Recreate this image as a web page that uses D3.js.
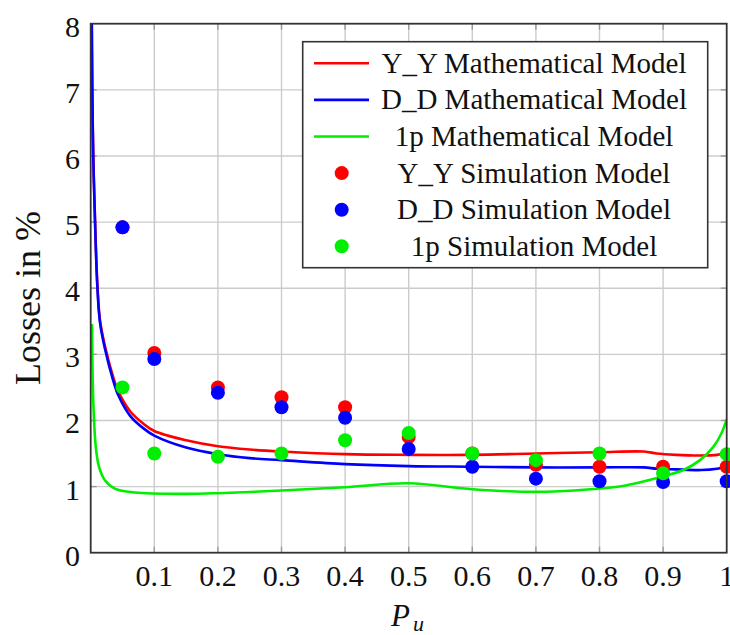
<!DOCTYPE html>
<html>
<head>
<meta charset="utf-8">
<script src="https://cdn.jsdelivr.net/npm/d3@7"></script>
<style>
  html, body { margin: 0; padding: 0; background: #fff; }
  svg { display: block; }
  text { font-family: "Liberation Serif", "Times New Roman", serif; fill: #111; }
</style>
</head>
<body>
<svg id="chart" width="730" height="635"></svg>
<script>
// ---------------- data ----------------
const xTicks = [0.1, 0.2, 0.3, 0.4, 0.5, 0.6, 0.7, 0.8, 0.9, 1];
const xTickLabels = ["0.1", "0.2", "0.3", "0.4", "0.5", "0.6", "0.7", "0.8", "0.9", "1"];
const yTicks = [0, 1, 2, 3, 4, 5, 6, 7, 8];

// Mathematical models (Y_Y and D_D share x positions)
const xMath = [0.0015, 0.0025, 0.004, 0.0068, 0.0104, 0.0146, 0.0225, 0.0346, 0.0434, 0.062, 0.083, 0.1, 0.15, 0.2, 0.25, 0.3, 0.4, 0.5, 0.6, 0.7, 0.8, 0.87, 0.89, 0.92, 0.96, 0.985, 1.0];
const yyMath = [8.3, 7.05, 6.05, 5.05, 4.08, 3.52, 3.12, 2.68, 2.44, 2.14, 1.95, 1.84, 1.70, 1.61, 1.56, 1.53, 1.49, 1.48, 1.48, 1.50, 1.52, 1.53, 1.50, 1.48, 1.47, 1.48, 1.51];
const ddMath = [8.3, 7.0, 6.0, 5.0, 4.03, 3.48, 3.08, 2.63, 2.38, 2.07, 1.88, 1.77, 1.59, 1.49, 1.43, 1.40, 1.34, 1.31, 1.30, 1.29, 1.29, 1.29, 1.27, 1.26, 1.25, 1.27, 1.30];

const x1pMath = [0.002, 0.004, 0.008, 0.013, 0.022, 0.038, 0.07, 0.148, 0.2, 0.3, 0.4, 0.5, 0.6, 0.7, 0.786, 0.837, 0.89, 0.932, 0.958, 0.979, 0.992, 1.0];
const p1Math = [3.46, 2.31, 1.6, 1.3, 1.1, 0.97, 0.91, 0.89, 0.90, 0.94, 0.99, 1.05, 0.96, 0.92, 0.96, 1.01, 1.13, 1.25, 1.40, 1.60, 1.81, 2.02];

// Simulation models
const xSim = [0.05, 0.1, 0.2, 0.3, 0.4, 0.5, 0.6, 0.7, 0.8, 0.9, 1.0];
const yySim = [4.92, 3.02, 2.50, 2.35, 2.20, 1.75, 1.50, 1.33, 1.30, 1.30, 1.30];
const ddSim = [4.92, 2.93, 2.42, 2.20, 2.04, 1.57, 1.30, 1.12, 1.08, 1.07, 1.08];
const p1Sim = [2.50, 1.50, 1.45, 1.50, 1.70, 1.81, 1.50, 1.40, 1.50, 1.20, 1.49];

const legendLabels = ["Y_Y Mathematical Model", "D_D Mathematical Model", "1p Mathematical Model",
                      "Y_Y Simulation Model", "D_D Simulation Model", "1p Simulation Model"];
const colors = { yy: "#ff0000", dd: "#0000ff", p1: "#00ee00" };

// ---------------- layout ----------------
const svg = d3.select("#chart");
const L = 90.7, R = 726.7, T = 23.7, B = 552.7;
const x = d3.scaleLinear().domain([0, 1]).range([L, R]);
const y = d3.scaleLinear().domain([0, 8]).range([B, T]);

// grid
const grid = svg.append("g");
grid.selectAll("line.gx").data(xTicks.filter(d => d < 1)).enter().append("line")
  .attr("x1", d => x(d)).attr("x2", d => x(d)).attr("y1", T).attr("y2", B)
  .attr("stroke", "#cccccc").attr("stroke-width", 1.4);
grid.selectAll("line.gy").data(yTicks.filter(d => d > 0 && d < 8)).enter().append("line")
  .attr("x1", L).attr("x2", R).attr("y1", d => y(d)).attr("y2", d => y(d))
  .attr("stroke", "#cccccc").attr("stroke-width", 1.4);

// inner tick marks
const tl = 6;
const tk = svg.append("g").attr("stroke", "#9a9a9a").attr("stroke-width", 1.4);
xTicks.filter(d => d < 1).forEach(d => {
  tk.append("line").attr("x1", x(d)).attr("x2", x(d)).attr("y1", B).attr("y2", B - tl);
  tk.append("line").attr("x1", x(d)).attr("x2", x(d)).attr("y1", T).attr("y2", T + tl);
});
yTicks.filter(d => d > 0 && d < 8).forEach(d => {
  tk.append("line").attr("x1", L).attr("x2", L + tl).attr("y1", y(d)).attr("y2", y(d));
  tk.append("line").attr("x1", R).attr("x2", R - tl).attr("y1", y(d)).attr("y2", y(d));
});

// clip
svg.append("defs").append("clipPath").attr("id", "clip")
  .append("rect").attr("x", L).attr("y", T).attr("width", R - L).attr("height", B - T);

const plot = svg.append("g").attr("clip-path", "url(#clip)");
const line = d3.line().x(d => x(d[0])).y(d => y(d[1])).curve(d3.curveCatmullRom.alpha(0.5));

function drawLine(xs, ys, c) {
  plot.append("path").datum(xs.map((v, i) => [v, ys[i]]))
    .attr("d", line).attr("fill", "none").attr("stroke", c).attr("stroke-width", 2.6);
}
drawLine(xMath, yyMath, colors.yy);
drawLine(xMath, ddMath, colors.dd);
drawLine(x1pMath, p1Math, colors.p1);

const dots = svg.append("g");
function drawDots(xs, ys, c) {
  dots.selectAll(null).data(xs.map((v, i) => [v, ys[i]])).enter().append("circle")
    .attr("cx", d => x(d[0])).attr("cy", d => y(d[1])).attr("r", 7).attr("fill", c);
}
drawDots(xSim, yySim, colors.yy);
drawDots(xSim, ddSim, colors.dd);
drawDots(xSim, p1Sim, colors.p1);

// frame
svg.append("rect").attr("x", L).attr("y", T).attr("width", R - L).attr("height", B - T)
  .attr("fill", "none").attr("stroke", "#333").attr("stroke-width", 1.8);

// tick labels
svg.append("g").selectAll("text").data(xTicks).enter().append("text")
  .attr("x", d => x(d)).attr("y", 586).attr("text-anchor", "middle")
  .style("font-size", "30px").text((d, i) => xTickLabels[i]);
svg.append("g").selectAll("text").data(yTicks).enter().append("text")
  .attr("x", 80).attr("y", d => y(d) + 13).attr("text-anchor", "end")
  .style("font-size", "30px").text(d => d);

// axis titles
svg.append("text").attr("transform", "translate(40,298) rotate(-90)")
  .attr("text-anchor", "middle").style("font-size", "36px").text("Losses in %");
const xt = svg.append("text").attr("x", 391).attr("y", 626).style("font-style", "italic");
xt.append("tspan").style("font-size", "31px").text("P");
xt.append("tspan").attr("x", 413).attr("y", 631).style("font-size", "22px").text("u");

// legend
const lg = svg.append("g");
lg.append("rect").attr("x", 302.7).attr("y", 41.7).attr("width", 405).attr("height", 226)
  .attr("fill", "#fff").attr("stroke", "#333").attr("stroke-width", 1.6);
const rowY = i => 63.3 + i * 36.6;
const legColors = [colors.yy, colors.dd, colors.p1, colors.yy, colors.dd, colors.p1];
legendLabels.forEach((lab, i) => {
  if (i < 3) {
    lg.append("line").attr("x1", 314).attr("x2", 369).attr("y1", rowY(i)).attr("y2", rowY(i))
      .attr("stroke", legColors[i]).attr("stroke-width", 2.6);
  } else {
    lg.append("circle").attr("cx", 341.7).attr("cy", rowY(i)).attr("r", 7).attr("fill", legColors[i]);
  }
  lg.append("text").attr("x", 534).attr("y", rowY(i) + 9.5).attr("text-anchor", "middle")
    .style("font-size", "29px").text(lab);
});
</script>
</body>
</html>
